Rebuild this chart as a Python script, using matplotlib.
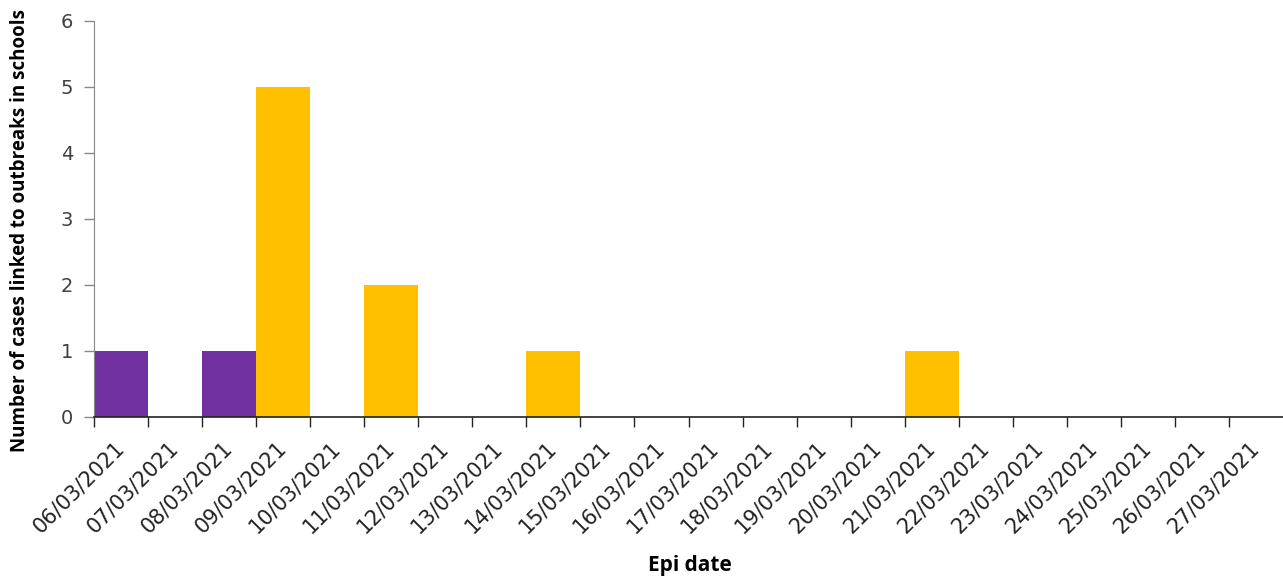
import matplotlib.pyplot as plt

# Data
dates = ['06/03/2021', '07/03/2021', '08/03/2021', '09/03/2021', '10/03/2021',
         '11/03/2021', '12/03/2021', '13/03/2021', '14/03/2021', '15/03/2021',
         '16/03/2021', '17/03/2021', '18/03/2021', '19/03/2021', '20/03/2021',
         '21/03/2021', '22/03/2021', '23/03/2021', '24/03/2021', '25/03/2021',
         '26/03/2021', '27/03/2021']
purple_cases = [1, 0, 1, 0, 0, 0, 0, 0, 0, 0, 0, 0, 0, 0, 0, 0, 0, 0, 0, 0, 0, 0]
yellow_cases = [0, 0, 0, 5, 0, 2, 0, 0, 1, 0, 0, 0, 0, 0, 0, 1, 0, 0, 0, 0, 0, 0]

plt.rcParams['font.family'] = ['DejaVu Sans']

fig = plt.figure(figsize=(12.83, 5.81), dpi=100)
ax = fig.add_axes([94 / 1283, 1 - 417 / 581, 1 - 94 / 1283, (417 - 21) / 581])

x = [i + 0.5 for i in range(len(dates))]
ax.bar(x, purple_cases, width=1.0, color='#7030A0', edgecolor='none')
ax.bar(x, yellow_cases, width=1.0, bottom=purple_cases, color='#FFC000', edgecolor='none')

ax.set_xlim(0, len(dates))
ax.set_ylim(0, 6)
ax.set_yticks(range(0, 7))

# tick marks between categories, labels under the bar centres
ax.set_xticks(range(len(dates)))
ax.set_xticklabels([])
ax.set_xticks(x, minor=True)
ax.set_xticklabels(dates, minor=True, rotation=45, ha='right', va='center',
                   rotation_mode='anchor', fontsize=15, color='#222222')
ax.tick_params(axis='x', which='major', length=7, width=1, color='#222222')
ax.tick_params(axis='x', which='minor', length=0, pad=20)
ax.tick_params(axis='y', length=7, width=1, color='#888888', labelsize=14, labelcolor='#404040', pad=8)

for s in ['top', 'right']:
    ax.spines[s].set_visible(False)
ax.spines['left'].set_color('#888888')
ax.spines['bottom'].set_color('#222222')
ax.spines['bottom'].set_linewidth(1.2)

fig.text(690 / 1283, 1 - 565 / 581, 'Epi date', ha='center', va='center',
         fontsize=15, fontweight='bold', fontfamily='Open Sans')
fig.text(20 / 1283, 1 - 230 / 581, 'Number of cases linked to outbreaks in schools', rotation=90,
         ha='center', va='center', fontsize=13.5, fontweight='bold', fontfamily='Open Sans')

fig.savefig('out.png', dpi=100)
